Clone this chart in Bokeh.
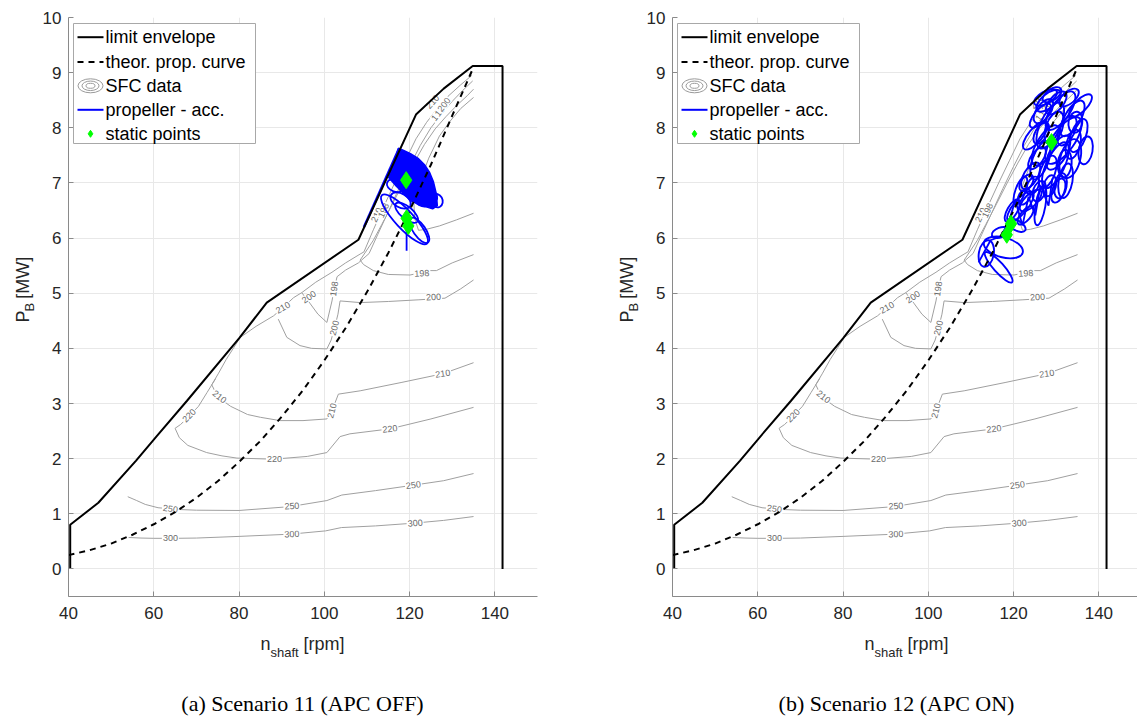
from bokeh.plotting import figure
from bokeh.models import Range1d, FixedTicker
from bokeh.layouts import row, column
from bokeh.embed import file_html
from bokeh.resources import INLINE
from bokeh.core.properties import value

# ---------------- shared data (rpm, MW) ----------------
xticks = [40, 60, 80, 100, 120, 140]
yticks = [0, 1, 2, 3, 4, 5, 6, 7, 8, 9, 10]

env_n = [40.4, 40.4, 47.0, 55.8, 60.7, 67.8, 80.0, 86.5, 108.0, 121.5, 128.0, 134.8, 141.8, 141.8]
env_p = [0.0, 0.8, 1.2, 1.96, 2.41, 3.05, 4.18, 4.83, 5.97, 8.24, 8.71, 9.12, 9.12, 0.0]

prop_n = [40, 45, 50, 55, 60, 65, 70, 75, 80, 85, 90, 95, 100, 105, 110, 115, 120, 125, 130, 135]
prop_p = [0.25, 0.34, 0.46, 0.62, 0.81, 1.03, 1.29, 1.59, 1.94, 2.32, 2.76, 3.24, 3.78, 4.37,
          5.02, 5.73, 6.50, 7.33, 8.22, 9.10]

# SFC contour lines (g/kWh)
c300_n = [54.1, 57, 60, 65, 70, 80, 92, 100.3, 104, 112, 121, 128, 135]
c300_p = [0.57, 0.56, 0.555, 0.555, 0.56, 0.59, 0.63, 0.69, 0.75, 0.78, 0.83, 0.88, 0.95]
c250_n = [53.9, 56, 58, 61, 65, 70, 80, 92, 100.6, 104.1, 112, 121, 128, 135]
c250_p = [1.31, 1.24, 1.17, 1.11, 1.08, 1.065, 1.06, 1.13, 1.24, 1.34, 1.42, 1.52, 1.60, 1.73]
c220_n = [74.5, 72.5, 70.5, 68.3, 66.3, 65.0, 66.0, 68.0, 72.4, 76, 79.5, 88, 96, 100.6, 103.7,
          106, 115.4, 125, 135]
c220_p = [3.45, 3.20, 2.95, 2.77, 2.62, 2.55, 2.38, 2.24, 2.11, 2.05, 2.01, 1.99, 2.04, 2.11, 2.40,
          2.45, 2.54, 2.72, 2.93]
c210_n = [134.6, 132, 129, 126.5, 124, 121.5, 119, 116.5, 114, 111.5, 109.3, 108.4, 105, 101.8, 98,
          94.7, 92.8, 90.3, 88.1, 84, 80.3, 77, 75.2, 73.6, 75.0, 78, 82, 85, 89.6, 95, 100.6,
          101.8, 103.3, 108.4, 118, 127.8, 135]
c210_p = [8.95, 8.78, 8.57, 8.35, 8.10, 7.80, 7.40, 7.00, 6.58, 6.15, 5.75, 5.71, 5.55, 5.38, 5.20,
          5.01, 4.92, 4.74, 4.59, 4.40, 4.20, 3.80, 3.55, 3.34, 3.12, 2.95, 2.80, 2.75, 2.69, 2.69,
          2.72, 2.87, 3.17, 3.23, 3.38, 3.54, 3.74]
c200a_n = [135, 132, 128.3, 122, 115, 108.4, 103.7, 103.2, 102.4, 101.6, 100.6, 97, 94.3, 91.2, 89.2]
c200a_p = [5.24, 5.08, 4.91, 4.88, 4.85, 4.83, 4.86, 4.62, 4.37, 4.15, 3.99, 4.00, 4.05, 4.20, 4.53]
c200b_n = [94.7, 96.6, 98.5, 100.6, 101.8, 102.3, 103.0, 105, 108, 110.5, 112.5, 115, 117.5, 120,
           122.5, 125, 127.5, 130, 132.5, 134.8]
c200b_p = [5.01, 4.82, 4.62, 4.47, 4.86, 5.08, 5.30, 5.42, 5.55, 5.72, 6.06, 6.48, 6.90, 7.30, 7.68,
           8.00, 8.25, 8.48, 8.68, 8.85]
c198_n = [135, 130, 126.3, 124.8, 120.1, 115, 111.5, 109.2, 108.4, 111.5, 113.5, 116, 118.5, 121,
          123.5, 126, 128.5, 131, 133.5, 135]
c198_p = [5.70, 5.55, 5.41, 5.41, 5.33, 5.34, 5.41, 5.52, 5.60, 5.96, 6.25, 6.62, 7.00, 7.36, 7.70,
          7.98, 8.20, 8.40, 8.58, 8.70]
c196_n = [135, 131, 127, 124, 122.1, 121.2, 121.0, 122.3, 124.5, 127, 129.5, 132, 135]
c196_p = [6.45, 6.33, 6.22, 6.16, 6.14, 6.35, 6.65, 7.00, 7.45, 7.85, 8.12, 8.35, 8.55]

lab_txt = ["300", "300", "300", "250", "250", "250", "220", "220", "220", "210", "210", "210",
           "210", "200", "200", "200", "198", "198", "210", "196", "198", "200", "210", "198"]
lab_n = [63.9, 92.4, 121.3, 63.9, 92.4, 120.9, 68.3, 88.3, 115.4, 90.3, 75.4, 101.8, 127.8,
         96.4, 102.4, 125.6, 102.3, 122.9, 125.4, 126.6, 127.4, 128.1, 112.3, 113.9]
lab_p = [0.555, 0.63, 0.83, 1.09, 1.14, 1.52, 2.78, 1.99, 2.54, 4.74, 3.12, 2.87, 3.54,
         4.93, 4.37, 4.93, 5.08, 5.36, 8.47, 8.25, 8.33, 8.42, 6.42, 6.50]
lab_ang = [0, 2, 5, -8, 4, 7, 45, 0, 6, 30, -38, 75, 8,
           35, 75, 4, 82, 3, 48, 52, 52, 52, 65, 65]

# ---- Scenario 11 (APC OFF) propeller trajectory ----
s11_edge_n = [109.3, 117.5]
s11_edge_p = [6.20, 7.62]
s11_blob_n = [115.1, 117.4, 118.6, 120.2, 122.1, 123.5, 124.7, 125.6, 126.3, 126.5, 125.4, 123.7,
              122.1, 120.2, 118.6, 116.9]
s11_blob_p = [7.10, 7.63, 7.59, 7.53, 7.44, 7.33, 7.19, 7.02, 6.79, 6.59, 6.53, 6.57, 6.61, 6.68,
              6.81, 6.94]
s11_loop_n = [118.8, 117.9, 119.3, 122.3, 116.7, 122.8, 124.9, 126.3]
s11_loop_p = [6.34, 6.68, 6.46, 6.14, 6.95, 6.68, 6.77, 6.68]
s11_loop_w = [15.5, 5.2, 6.6, 7.0, 4.2, 3.8, 3.5, 3.3]
s11_loop_h = [0.33, 0.25, 0.22, 0.22, 0.22, 0.18, 0.20, 0.22]
s11_loop_a = [-47, -30, -40, -55, -20, -30, -40, -60]
s11_drop_n = [119.3, 119.3]
s11_drop_p = [6.30, 5.77]
s11_static_n = [119.2, 119.3, 119.7]
s11_static_p = [7.05, 6.36, 6.22]

# ---- Scenario 12 (APC ON) propeller trajectory ----
s12_loop_n = [131.0, 133.8, 128.6, 135.2, 127.5, 131.7, 126.3, 133.3, 129.8, 125.1, 135.7, 128.2,
              132.2, 124.0, 130.5, 136.9, 126.3, 124.0, 121.6, 126.3, 119.7, 122.8, 117.6, 116.5,
              113.6, 121.6, 116.9, 120.7, 129.5, 132.5, 127.0, 130.5, 134.0, 128.0, 131.0, 125.5,
              133.0, 129.0, 126.0, 123.0, 127.5, 134.5, 130.0, 126.5, 132.0, 128.5, 124.5, 122.5]
s12_loop_p = [8.31, 8.17, 8.04, 7.86, 7.68, 7.77, 7.41, 7.44, 7.32, 7.86, 8.40, 8.49,
              7.04, 7.13, 6.86, 7.59, 8.22, 6.68, 6.86, 6.59, 6.50, 6.41, 5.83, 5.47,
              5.72, 6.57, 6.10, 6.23, 8.00, 7.95, 8.30, 7.55, 7.70, 7.20, 6.95, 7.45,
              8.55, 8.60, 6.85, 7.00, 8.55, 8.10, 8.45, 7.90, 7.35, 6.95, 6.95, 6.75]
s12_loop_w = [10.6, 9.4, 11.7, 8.2, 10.6, 12.9, 9.4, 9.4, 11.7, 8.2, 7.0, 7.0,
              8.2, 7.0, 5.9, 6.6, 7.0, 6.6, 7.0, 9.4, 5.9, 5.2, 9.4, 9.4,
              6.3, 8.9, 4.2, 4.7, 8.0, 7.5, 6.5, 9.0, 7.0, 8.0, 6.0, 6.0,
              5.5, 5.0, 5.0, 4.5, 6.0, 5.0, 6.5, 5.5, 6.5, 5.0, 4.5, 4.0]
s12_loop_h = [0.33, 0.29, 0.36, 0.27, 0.33, 0.40, 0.29, 0.36, 0.33, 0.25, 0.22, 0.25,
              0.25, 0.25, 0.22, 0.25, 0.22, 0.22, 0.18, 0.18, 0.18, 0.18, 0.36, 0.18,
              0.27, 0.25, 0.18, 0.18, 0.30, 0.28, 0.25, 0.30, 0.25, 0.27, 0.22, 0.22,
              0.22, 0.20, 0.22, 0.20, 0.22, 0.25, 0.25, 0.22, 0.25, 0.22, 0.20, 0.20]
s12_loop_a = [55, 60, 65, 70, 60, 55, 70, 75, 65, 50, 45, 40,
              80, 60, 70, 80, 50, 45, 70, 80, 60, 50, -15, -48,
              80, 50, 20, -30, 70, 65, 55, 60, 75, 70, 80, 55,
              40, 35, 70, 55, 30, 80, 50, 60, 85, 75, 65, 60]
s12_path_n = [111.8, 114.6, 116.9, 118.8, 120.4, 122.1, 123.5, 125.1, 126.3, 128.2, 129.1]
s12_path_p = [5.56, 5.96, 6.03, 6.28, 6.68, 6.23, 6.75, 6.41, 6.95, 6.59, 7.08]
s12_static_n = [128.9, 118.4, 119.4]
s12_static_p = [7.74, 6.06, 6.26]

legend_labels = ["limit envelope", "theor. prop. curve", "SFC data", "propeller - acc.", "static points"]
captions = ["(a) Scenario 11 (APC OFF)", "(b) Scenario 12 (APC ON)"]

# ---------------- layout constants ----------------
PX_X = 469.0 / 110.0      # px per rpm
PX_Y = 579.0 / 10.5       # px per MW
TOP_H = 630               # height of the plot row
FONT = value("Liberation Sans")
BLUE = "#0000ff"
GREEN = "#00ff00"
CGREY = "#a0a0a0"


def rx(px):
    return 40 + px / PX_X


def ry(px):
    return 10 - px / PX_Y


def blank(w, h):
    f = figure(width=w, height=h, x_range=Range1d(0, w), y_range=Range1d(0, h),
               x_axis_type=None, y_axis_type=None, output_backend="svg",
               toolbar_location=None, tools="", min_border=0)
    f.outline_line_color = None
    f.background_fill_color = "white"
    f.border_fill_color = "white"
    return f


def build(fig_w, right_b, x_end, scen):
    p = figure(width=fig_w, height=TOP_H, x_range=Range1d(40, x_end), y_range=Range1d(-0.5, 10),
               output_backend="svg", toolbar_location=None, tools="",
               min_border_left=30, min_border_right=right_b,
               min_border_top=17, min_border_bottom=TOP_H - 17 - 579)
    p.outline_line_color = None
    p.background_fill_color = "white"
    p.border_fill_color = "white"
    for ax, tk in ((p.xaxis, xticks), (p.yaxis, yticks)):
        ax.ticker = FixedTicker(ticks=tk)
        ax.minor_tick_line_color = None
        ax.major_tick_in = 5
        ax.major_tick_out = 0
        ax.axis_line_color = "#8a8a8a"
        ax.major_tick_line_color = "#8a8a8a"
        ax.major_label_text_font = "Liberation Sans"
        ax.major_label_text_font_size = "17px"
        ax.major_label_text_color = "#262626"
    p.xaxis.major_label_standoff = 10
    p.yaxis.major_label_standoff = 7
    p.xgrid.ticker = FixedTicker(ticks=xticks)
    p.ygrid.ticker = FixedTicker(ticks=yticks)
    p.grid.grid_line_color = "#e8e8e8"

    # SFC contours
    p.multi_line(xs=[c300_n, c250_n, c220_n, c210_n, c200a_n, c200b_n, c198_n, c196_n],
                 ys=[c300_p, c250_p, c220_p, c210_p, c200a_p, c200b_p, c198_p, c196_p],
                 line_color=CGREY, line_width=1)
    p.text(x=lab_n, y=lab_p, text=lab_txt, angle=lab_ang, angle_units="deg",
           text_align="center", text_baseline="middle", text_font=FONT,
           text_font_size="9px", text_color="#6a6a6a",
           background_fill_color="white", padding=1)

    # propeller trajectories
    if scen == 11:
        p.patch(s11_blob_n, s11_blob_p, fill_color=BLUE, line_color=BLUE, line_width=1.5)
        p.line(s11_edge_n, s11_edge_p, line_color=BLUE, line_width=2.5)
        p.ellipse(x=s11_loop_n, y=s11_loop_p, width=s11_loop_w, height=s11_loop_h,
                  angle=s11_loop_a, angle_units="deg", fill_color=None,
                  line_color=BLUE, line_width=1.8)
        p.line(s11_drop_n, s11_drop_p, line_color=BLUE, line_width=1.8)
        sn, sp = s11_static_n, s11_static_p
    else:
        p.ellipse(x=s12_loop_n, y=s12_loop_p, width=s12_loop_w, height=s12_loop_h,
                  angle=s12_loop_a, angle_units="deg", fill_color=None,
                  line_color=BLUE, line_width=1.9)
        p.line(s12_path_n, s12_path_p, line_color=BLUE, line_width=1.8)
        sn, sp = s12_static_n, s12_static_p

    # limit envelope & propeller curve
    p.line(env_n, env_p, line_color="black", line_width=2)
    p.line(prop_n, prop_p, line_color="black", line_width=2, line_dash="6 5")
    p.scatter(sn, sp, marker="diamond", size=17, fill_color=GREEN, line_color=GREEN)

    # ---- legend (drawn manually) ----
    p.quad(left=[rx(5)], right=[rx(187)], top=[ry(6)], bottom=[ry(126)],
           fill_color="white", line_color="#a8a8a8", line_width=1, level="overlay")
    rows = [19.7, 44.5, 68.3, 92.3, 116.3]
    p.line([rx(9), rx(35)], [ry(rows[0])] * 2, line_color="black", line_width=2, level="overlay")
    p.line([rx(9), rx(35)], [ry(rows[1])] * 2, line_color="black", line_width=2,
           line_dash="6 5", level="overlay")
    p.ellipse(x=[rx(22)] * 3, y=[ry(rows[2])] * 3,
              width=[25 / PX_X, 17 / PX_X, 9 / PX_X], height=[14 / PX_Y, 9.5 / PX_Y, 5 / PX_Y],
              fill_color=None, line_color="#9a9a9a", line_width=1, level="overlay")
    p.line([rx(9), rx(35)], [ry(rows[3])] * 2, line_color=BLUE, line_width=2, level="overlay")
    p.scatter([rx(22)], [ry(rows[4])], marker="diamond", size=7, fill_color=GREEN,
              line_color=GREEN, level="overlay")
    p.text(x=[rx(37)] * 5, y=[ry(r) for r in rows], text=legend_labels,
           text_font=FONT, text_font_size="18px", text_baseline="middle",
           text_color="black", level="overlay")
    return p


def ylabel_strip(w, base_x):
    f = blank(w, TOP_H)
    ys = TOP_H - 332
    f.text(x=[base_x], y=[ys], text=["P"], angle=90, angle_units="deg", text_align="left",
           text_baseline="alphabetic", text_font=FONT, text_font_size="18px", text_color="#262626")
    f.text(x=[base_x + 7], y=[ys + 12], text=["B"], angle=90, angle_units="deg", text_align="left",
           text_baseline="alphabetic", text_font=FONT, text_font_size="13px", text_color="#262626")
    f.text(x=[base_x], y=[ys + 26], text=["[MW]"], angle=90, angle_units="deg", text_align="left",
           text_baseline="alphabetic", text_font=FONT, text_font_size="18px", text_color="#262626")
    return f


# ---- bottom strip: x-axis labels and sub-figure captions ----
BOT_H = 718 - TOP_H
bottom = blank(1137, BOT_H)
for dx, cap_x, cap in ((0, 302, captions[0]), (604, 896, captions[1])):
    bottom.text(x=[260 + dx], y=[718 - 643], text=["n"], text_baseline="alphabetic",
                text_font=FONT, text_font_size="18px", text_color="#262626")
    bottom.text(x=[270 + dx], y=[718 - 652], text=["shaft"], text_baseline="alphabetic",
                text_font=FONT, text_font_size="13px", text_color="#262626")
    bottom.text(x=[303 + dx], y=[718 - 643], text=["[rpm]"], text_baseline="alphabetic",
                text_font=FONT, text_font_size="18px", text_color="#262626")
    bottom.text(x=[cap_x], y=[718 - 703], text=[cap], text_align="center", text_baseline="middle",
                text_font=value("Liberation Serif"), text_font_size="22px", text_color="black")

p1 = build(539, 40, 150, 11)
p2 = build(495, 0, 40 + 465 / PX_X, 12)
yl1 = ylabel_strip(38, 22)
yl2 = ylabel_strip(65, 49)

layout = column(row(yl1, p1, yl2, p2, spacing=0), bottom, spacing=0)
open("out.html", "w").write(file_html(layout, INLINE))
